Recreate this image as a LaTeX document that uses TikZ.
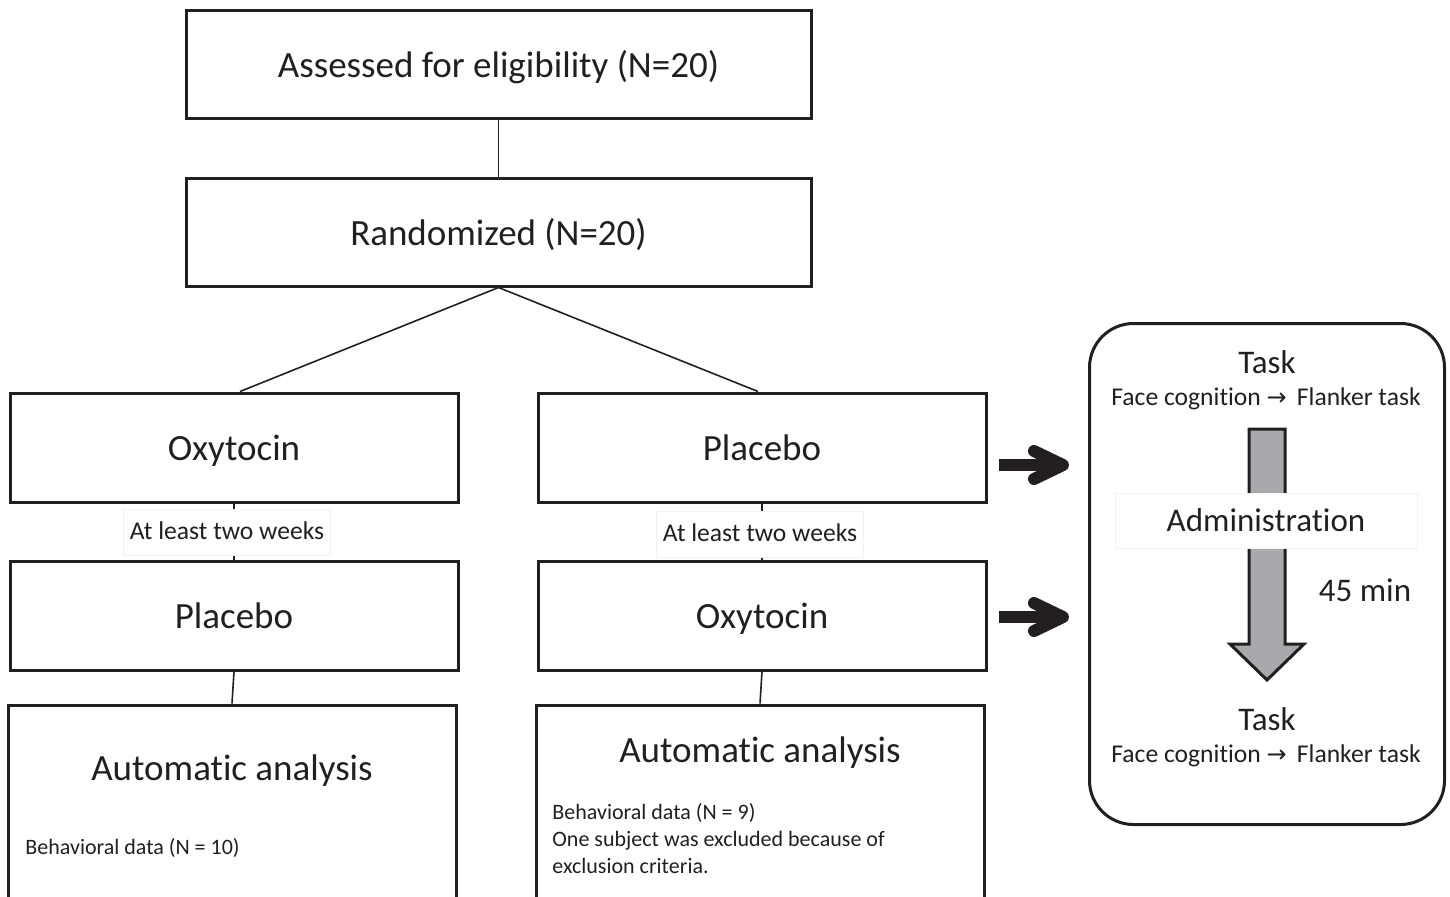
\documentclass[tikz,border=0pt]{standalone}
\usepackage{fontspec}
\setmainfont{Carlito}[Ligatures=NoCommon]
\newfontfamily\symfont{DejaVu Sans}
\usetikzlibrary{positioning}
\definecolor{ink}{HTML}{231F20}
\definecolor{arrowgray}{HTML}{A7A9AC}
\tikzstyle{bigbox} = [rectangle, draw=ink, line width=1.5pt, inner sep=0pt,
    minimum width=312.5pt, minimum height=54pt, text height=16pt, text depth=3pt,
    font=\fontsize{18.5}{22}\selectfont]
\tikzstyle{bt} = [bigbox, minimum width=224pt, minimum height=54.5pt]
\tikzstyle{midtext} = [font=\fontsize{16.5}{20}\selectfont, text height=13pt, text depth=2pt]
\tikzstyle{smalltext} = [font=\fontsize{12.8}{15}\selectfont, text height=10pt, text depth=3pt]
\tikzstyle{bodytext} = [font=\fontsize{11}{13.5}\selectfont, align=left, anchor=west, inner sep=0pt]
\tikzstyle{waitlabel} = [smalltext, fill=white, draw=black!5, line width=0.4pt, minimum height=23pt]
\tikzstyle{link} = [draw=ink, line width=0.8pt]
\tikzstyle{fatline} = [draw=ink, line width=6pt]
\newcommand{\thento}{{\symfont\fontsize{12}{14}\selectfont →}}

\begin{document}
\begin{tikzpicture}[x=0.5pt,y=-0.5pt,text=ink]
  \useasboundingbox (0,0) rectangle (1450,896);
  \clip (0,0) rectangle (1450,896);

  % enrolment
  \node[bigbox] (assess) at (498.5,64)  {Assessed for eligibility (N=20)};
  \node[bigbox] (rand)   at (498.5,232) {Randomized (N=20)};

  % two periods
  \node[bt] (oxyA) at (234,447.5) {Oxytocin};
  \node[bt] (plcA) at (762,447.5) {Placebo};
  \node[bt] (plcB) at (234,615.5) {Placebo};
  \node[bt] (oxyB) at (762,615.5) {Oxytocin};

  % analysis boxes, cut by the page edge
  \node[bt, minimum height=130pt] (anaA) at (232,835) {};
  \node[bt, minimum height=130pt] (anaB) at (760,835) {};
  \node[bigbox, draw=none] (anaAt) at (232,767) {Automatic analysis};
  \node[bigbox, draw=none] (anaBt) at (760,749) {Automatic analysis};
  \node[bodytext] (anaAb) at (25,848) {Behavioral data (N = 10)};
  \node[bodytext] (anaBb) at (552,839) {Behavioral data (N = 9)\\
    One subject was excluded because of\\ exclusion criteria.};

  \path (assess) edge[link] (rand)
        (rand.south) edge[link] ([xshift=3pt]oxyA.north)
        (rand.south) edge[link] ([xshift=-2pt]plcA.north)
        (plcB.south) edge[link] (anaA.north)
        (oxyB.south) edge[link] (anaB.north);
  \draw[link] (oxyA) -- (plcB);
  \draw[link] (plcA) -- (oxyB);
  \node[waitlabel] (wA) at (227,532) {At least two weeks};
  \node[waitlabel] (wB) at (760,534) {At least two weeks};

  % protocol panel
  \node[draw=ink, line width=1.5pt, rounded corners=22pt,
        minimum width=177.5pt, minimum height=250.5pt] (panel) at (1267,574) {};
  \draw[ink, line width=1.5pt, fill=arrowgray]
    (1249,429) -- (1285,429) -- (1285,644) -- (1304,644) -- (1267,680)
    -- (1230,644) -- (1249,644) -- cycle;
  \node[midtext, fill=white, draw=black!5, line width=0.4pt,
        minimum width=151pt, minimum height=27.5pt] (admin) at (1266,520.5) {Administration};
  \node[midtext] (task1) at (1267,362) {Task};
  \node[smalltext] (seq1) at (1266,398) {Face cognition \thento\ \,Flanker task};
  \node[midtext] (wait) at (1365,590) {45 min};
  \node[midtext] (task2) at (1267,719) {Task};
  \node[smalltext] (seq2) at (1266,755) {Face cognition \thento\ \,Flanker task};

  % arrows into the panel
  \coordinate (in1) at (1063,465);
  \coordinate (in2) at (1063,617);
  \draw[fatline] ([xshift=5.5pt,yshift=-8.75pt]plcA.east) -- ([xshift=-2pt]in1);
  \draw[fatline, line cap=round, line join=round] (in1) ++(-29,-14) -- (in1) -- ++(-29,14);
  \draw[fatline] ([xshift=5.5pt,yshift=-0.75pt]oxyB.east) -- ([xshift=-2pt]in2);
  \draw[fatline, line cap=round, line join=round] (in2) ++(-29,-14) -- (in2) -- ++(-29,14);
\end{tikzpicture}
\end{document}
